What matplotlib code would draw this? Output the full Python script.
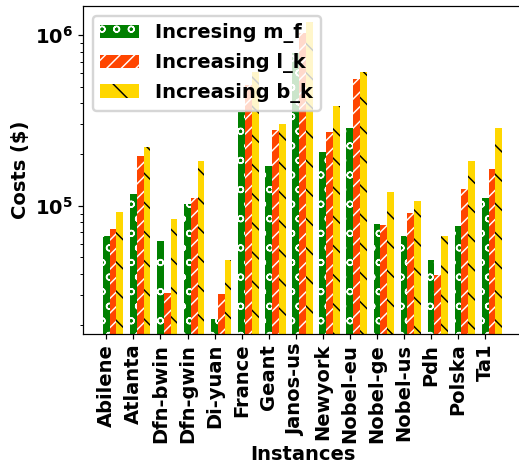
# -*-coding:Utf-8 -*
#######################################################################
# Importations :
import matplotlib
matplotlib.use("Agg")
from matplotlib import pyplot as plt
from matplotlib.ticker import FixedLocator, FixedFormatter, NullFormatter
import numpy as np

#######################################################################
# Donnees :
instances = ["Abilene", "Atlanta", "Dfn-bwin", "Dfn-gwin", "Di-yuan",
             "France", "Geant", "Janos-us", "Newyork", "Nobel-eu",
             "Nobel-ge", "Nobel-us", "Pdh", "Polska", "Ta1"]

cost_m_f = [67000, 117600, 62400, 102700, 21800, 355000, 172000, 785000,
            208000, 285000, 78100, 67000, 48100, 76400, 110900]
cost_l_k = [73100, 196000, 30900, 111800, 30600, 510000, 278000, 1030000,
            271000, 553000, 77400, 91400, 39300, 126300, 164600]
cost_b_k = [92200, 221000, 84000, 182500, 48500, 610000, 302000, 1190000,
            383000, 610000, 120700, 107000, 67000, 182500, 287000]

labels = ["Incresing m_f", "Increasing l_k", "Increasing b_k"]

#######################################################################
# definitions locales de fonctions :

def main() -> int:
    """
    Trace les couts par instance (echelle log).
    """

    plt.rcParams['font.weight'] = 'bold'
    plt.rcParams['font.size'] = 8
    plt.rcParams['hatch.linewidth'] = 0.6
    plt.rcParams['axes.labelweight'] = 'bold'

    fig = plt.figure(figsize=(519 / 175, 467 / 175), dpi=175)
    ax = fig.add_axes([0.1599, 0.2848, 0.8459, 0.7024])

    x = np.arange(len(instances))
    w = 0.25

    ax.bar(x, cost_m_f, w, color='#008000', edgecolor='white',
           linewidth=0, hatch='oo', label=labels[0])
    ax.bar(x + w, cost_l_k, w, color='#FF4500', edgecolor='white',
           linewidth=0, hatch='////', label=labels[1])
    ax.bar(x + 2 * w, cost_b_k, w, color='#FFD700', edgecolor='black',
           linewidth=0, hatch='\\\\', label=labels[2])

    # Axe y en log :
    ax.set_yscale('log')
    ax.set_ylim(17800, 1.48e6)
    ax.yaxis.set_major_locator(FixedLocator([1e5, 1e6]))
    ax.yaxis.set_major_formatter(
        FixedFormatter([r'$\mathbf{10^{5}}$', r'$\mathbf{10^{6}}$']))
    ax.yaxis.set_minor_formatter(NullFormatter())

    ax.set_xticks(x)
    ax.set_xticklabels(instances, rotation=90)
    ax.set_xlim(-0.8625, 15.3625)

    ax.tick_params(which='major', length=2, width=0.5, pad=2)
    ax.tick_params(which='minor', length=1.2, width=0.4)
    for spine in ax.spines.values():
        spine.set_linewidth(0.5)

    ax.set_ylabel(r'Costs (\$)', labelpad=2)
    ax.set_xlabel("Instances", labelpad=1)

    ax.legend(loc='upper left')

    fig.savefig("out.png", dpi=175)
    return (0)

#######################################################################
if __name__ == "__main__":
    main()
